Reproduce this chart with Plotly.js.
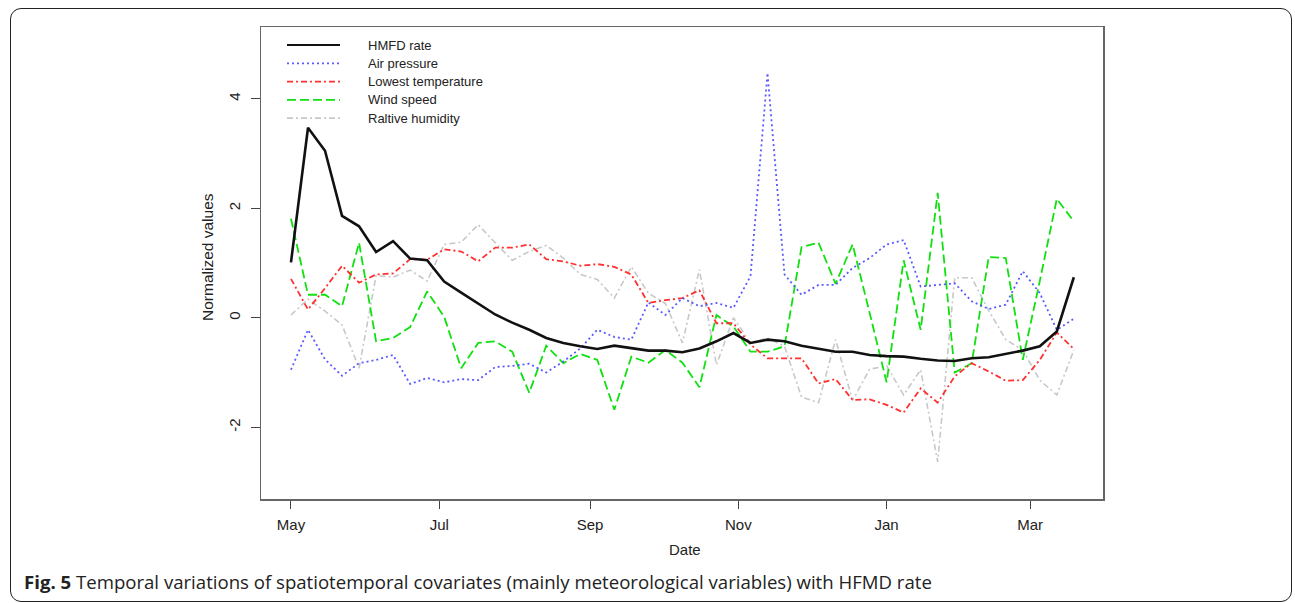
<!DOCTYPE html>
<html>
<head>
<meta charset="utf-8">
<script src="https://cdn.plot.ly/plotly-3.0.1.min.js"></script>
<style>
  html, body { margin: 0; padding: 0; background: #fff; }
  #wrap { position: relative; width: 1295px; height: 603px; overflow: hidden; }
  #chart { position: absolute; left: 0; top: 0; width: 1295px; height: 603px; }
  #frame { position: absolute; left: 10px; top: 8px; width: 1280px; height: 592px;
           border: 1.5px solid #222; border-radius: 11px; pointer-events: none; z-index: 5; }
</style>
</head>
<body>
<div id="wrap">
  <div id="chart"></div>
  <div id="frame"></div>
</div>
<script>
const dates = ['2008-05-01','2008-05-08','2008-05-15','2008-05-22','2008-05-29',
  '2008-06-05','2008-06-12','2008-06-19','2008-06-26',
  '2008-07-03','2008-07-10','2008-07-17','2008-07-24','2008-07-31',
  '2008-08-07','2008-08-14','2008-08-21','2008-08-28',
  '2008-09-04','2008-09-11','2008-09-18','2008-09-25',
  '2008-10-02','2008-10-09','2008-10-16','2008-10-23','2008-10-30',
  '2008-11-06','2008-11-13','2008-11-20','2008-11-27',
  '2008-12-04','2008-12-11','2008-12-18','2008-12-25',
  '2009-01-01','2009-01-08','2009-01-15','2009-01-22','2009-01-29',
  '2009-02-05','2009-02-12','2009-02-19','2009-02-26',
  '2009-03-05','2009-03-12','2009-03-19'];

const hmfdRate = [1.01,3.47,3.05,1.86,1.67,1.20,1.40,1.08,1.05,0.66,
  0.46,0.26,0.06,-0.09,-0.22,-0.37,-0.46,-0.52,-0.57,-0.51,
  -0.56,-0.60,-0.60,-0.63,-0.56,-0.43,-0.28,-0.46,-0.40,-0.43,
  -0.51,-0.57,-0.62,-0.62,-0.68,-0.70,-0.71,-0.75,-0.78,-0.79,
  -0.74,-0.72,-0.66,-0.60,-0.52,-0.25,0.74];

const airPressure = [-0.95,-0.22,-0.76,-1.06,-0.83,-0.77,-0.68,-1.21,-1.10,-1.18,
  -1.12,-1.14,-0.90,-0.88,-0.84,-1.00,-0.80,-0.56,-0.22,-0.35,
  -0.40,0.28,0.05,0.36,0.21,0.27,0.18,0.76,4.47,0.79,
  0.42,0.60,0.60,0.91,1.09,1.34,1.42,0.57,0.60,0.63,
  0.30,0.16,0.24,0.85,0.45,-0.22,-0.02];

const lowestTemp = [0.71,0.15,0.54,0.95,0.64,0.79,0.81,1.07,1.06,1.25,
  1.21,1.03,1.28,1.28,1.34,1.07,1.03,0.95,0.98,0.93,
  0.79,0.27,0.32,0.36,0.50,-0.10,-0.10,-0.49,-0.74,-0.74,
  -0.74,-1.20,-1.12,-1.50,-1.49,-1.59,-1.73,-1.29,-1.55,-1.07,
  -0.83,-0.98,-1.15,-1.14,-0.77,-0.27,-0.57];

const windSpeed = [1.81,0.42,0.42,0.21,1.37,-0.43,-0.37,-0.17,0.48,0.02,
  -0.92,-0.46,-0.43,-0.62,-1.37,-0.51,-0.83,-0.66,-0.77,-1.68,
  -0.71,-0.82,-0.59,-0.82,-1.27,0.05,-0.16,-0.62,-0.62,-0.52,
  1.29,1.37,0.62,1.34,0.09,-1.18,1.05,-0.22,2.28,-1.00,
  -0.83,1.11,1.09,-0.77,0.67,2.17,1.76];

const humidity = [0.05,0.34,0.12,-0.13,-0.92,0.77,0.74,0.87,0.67,1.34,
  1.38,1.70,1.37,1.05,1.21,1.32,1.09,0.79,0.70,0.36,
  0.93,0.45,0.26,-0.46,0.88,-0.86,0.00,-0.46,-0.37,-0.52,
  -1.45,-1.55,-0.40,-1.51,-0.94,-0.88,-1.41,-0.95,-2.63,0.73,
  0.73,0.13,-0.40,-0.59,-1.14,-1.41,-0.59];

const seriesNames = ['HMFD rate','Air pressure','Lowest temperature','Wind speed','Raltive humidity'];
const tickDates = ['2008-05-01','2008-07-01','2008-09-01','2008-11-01','2009-01-01','2009-03-01'];
const tickLabels = ['May','Jul','Sep','Nov','Jan','Mar'];

// ---- Styles ----
const styles = [
  {color:'#111111', width:2.6, dash:'solid'},
  {color:'#5a5aff', width:1.8, dash:'2px,3px'},
  {color:'#ff3030', width:1.8, dash:'6px,3px,2px,3px'},
  {color:'#10e010', width:1.8, dash:'9px,4px'},
  {color:'#c8c8c8', width:1.6, dash:'6px,3px,2px,3px'}
];
const seriesValues = [hmfdRate, airPressure, lowestTemp, windSpeed, humidity];

// draw order: back to front similar to reference
const order = [4,3,2,1,0];
const traces = order.map(k => ({
  type:'scatter', mode:'lines', x: dates, y: seriesValues[k], name: seriesNames[k],
  line: {color: styles[k].color, width: styles[k].width, dash: styles[k].dash},
  showlegend:false, hoverinfo:'skip'
}));

// plot area in pixels
const L = 261, R = 1103, T = 27, B = 499;
const W = 1295, H = 603;
const px2x = p => (p - L) / (R - L);
const px2y = p => (B - p) / (B - T);

const shapes = [];
const annotations = [];
// custom legend (R style, no border)
seriesNames.forEach((nm, k) => {
  const yy = px2y(45 + k * 18.3);
  shapes.push({type:'line', xref:'paper', yref:'paper', x0:px2x(287), x1:px2x(340), y0:yy, y1:yy,
    line:{color:styles[k].color, width: k === 0 ? 2.2 : 1.8, dash:styles[k].dash}});
  annotations.push({xref:'paper', yref:'paper', x:px2x(366), y:yy, xanchor:'left', yanchor:'middle',
    text:nm, showarrow:false, font:{family:'Liberation Sans, Arial, sans-serif', size:13, color:'#222'}});
});
// axis titles
annotations.push({xref:'paper', yref:'paper', x:px2x(685), y:px2y(549), xanchor:'center', yanchor:'middle',
  text:'Date', showarrow:false, font:{family:'Liberation Sans, Arial, sans-serif', size:15, color:'#222'}});
annotations.push({xref:'paper', yref:'paper', x:px2x(207), y:px2y(257), xanchor:'center', yanchor:'middle',
  text:'Normalized values', textangle:-90, showarrow:false, font:{family:'Liberation Sans, Arial, sans-serif', size:15.5, color:'#222'}});
// caption
annotations.push({xref:'paper', yref:'paper', x:px2x(22), y:px2y(581), xanchor:'left', yanchor:'middle',
  text:'<b>Fig. 5</b> Temporal variations of spatiotemporal covariates (mainly meteorological variables) with HFMD rate',
  showarrow:false, font:{family:'Open Sans, Noto Sans, sans-serif', size:18.6, color:'#222'}});

const layout = {
  width: W, height: H,
  margin: {l:L, r:W-R, t:T, b:H-B, pad:0},
  paper_bgcolor:'#fff', plot_bgcolor:'#fff',
  showlegend:false,
  xaxis: {
    type:'date', range:['2008-04-18 16:00','2009-03-31'],
    tickmode:'array', tickvals: tickDates, ticktext: tickLabels,
    ticks:'outside', ticklen:8, tickwidth:1, tickcolor:'#444',
    ticklabelstandoff:3,
    showline:true, mirror:true, linecolor:'#666', linewidth:1.5,
    showgrid:false, zeroline:false,
    tickfont:{family:'Liberation Sans, Arial, sans-serif', size:15, color:'#222'}
  },
  yaxis: {
    range:[-3.31, 5.31],
    tickmode:'array', tickvals:[-2,0,2,4], ticktext:['-2','0','2','4'],
    tickangle:-90,
    ticks:'outside', ticklen:9, tickwidth:1, tickcolor:'#444',
    ticklabelstandoff:5,
    showline:true, mirror:true, linecolor:'#666', linewidth:1.5,
    showgrid:false, zeroline:false,
    tickfont:{family:'Liberation Sans, Arial, sans-serif', size:15, color:'#222'}
  },
  shapes: shapes,
  annotations: annotations
};

Plotly.newPlot('chart', traces, layout, {staticPlot:true, displayModeBar:false});
</script>
</body>
</html>
